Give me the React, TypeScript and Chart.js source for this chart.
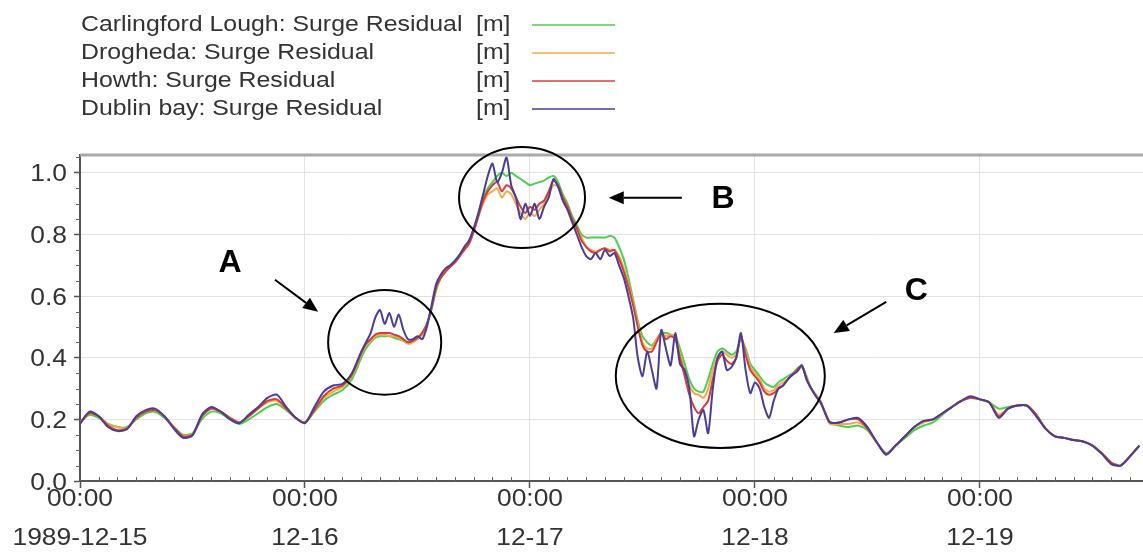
import React, { useEffect, useRef } from "react";
import { Chart, registerables } from "chart.js";

Chart.register(...registerables);

// Sample times, hours after 1989-12-15 00:00 (half-hourly through the surge peak)
const hours = [
  0, 1, 2, 3, 4, 5, 6, 7, 8, 9, 10, 11, 12, 13, 14, 15, 16, 17, 18, 19,
  20, 21, 22, 23, 24, 25, 26, 27, 28, 29,
  30, 30.5, 31, 31.5, 32, 32.5, 33, 33.5, 34, 34.5,
  35, 35.5, 36, 36.5, 37, 37.5, 38, 38.5, 39, 39.5,
  40, 40.5, 41, 41.5, 42, 42.5, 43, 43.5, 44, 44.5,
  45, 45.5, 46, 46.5, 47, 47.5, 48, 48.5, 49, 49.5,
  50, 50.5, 51, 51.5, 52, 52.5, 53, 53.5, 54, 54.5,
  55, 55.5, 56, 56.5, 57, 57.5, 58, 58.5, 59, 59.5,
  60, 60.5, 61, 61.5, 62, 62.5, 63, 63.5, 64, 64.5,
  65, 65.5, 66, 66.5, 67, 67.5, 68, 68.5, 69, 69.5,
  70, 70.5, 71, 71.5, 72, 72.5, 73, 73.5, 74, 74.5,
  75, 75.5, 76, 76.5, 77, 77.5, 78, 78.5, 79, 79.5,
  80,
  81, 82, 83, 84, 85, 86, 87, 88, 89, 90,
  91, 92, 93, 94, 95, 96, 97, 98, 99, 100,
  101, 102, 103, 104, 105, 106, 107, 108, 109, 110,
  111, 112, 113,
];

// Surge residual [m] at each station
const carlingford = [
  0.19, 0.215, 0.205, 0.185, 0.175, 0.175, 0.2, 0.22, 0.225, 0.205,
  0.175, 0.15, 0.155, 0.2, 0.225, 0.22, 0.2, 0.185, 0.2, 0.22,
  0.24, 0.25, 0.23, 0.205, 0.19, 0.225, 0.26, 0.28, 0.295, 0.33,
  0.4, 0.43, 0.45, 0.465, 0.47, 0.47, 0.47, 0.465, 0.46, 0.455,
  0.45, 0.455, 0.465, 0.48, 0.51, 0.56, 0.62, 0.66, 0.68, 0.7,
  0.715, 0.735, 0.755, 0.78, 0.82, 0.87, 0.92, 0.95, 0.97, 0.99,
  1.0, 0.99, 1.0, 0.99, 0.98, 0.97, 0.96, 0.965, 0.97, 0.975,
  0.985, 0.99, 0.97, 0.93, 0.9, 0.86, 0.83, 0.8, 0.79, 0.79,
  0.79, 0.79, 0.79, 0.795, 0.79, 0.76, 0.72, 0.66, 0.59, 0.52,
  0.47, 0.45, 0.44, 0.46, 0.48, 0.48, 0.475, 0.47, 0.43, 0.38,
  0.33, 0.3, 0.29, 0.29, 0.33, 0.38, 0.42, 0.43, 0.42, 0.41,
  0.42, 0.46, 0.43, 0.38, 0.36, 0.34, 0.32, 0.31, 0.305, 0.32,
  0.33, 0.34, 0.35, 0.365, 0.375, 0.34, 0.3, 0.28, 0.26, 0.22,
  0.19,
  0.18, 0.175, 0.18, 0.165, 0.125, 0.09, 0.115, 0.14, 0.165, 0.18,
  0.19, 0.215, 0.24, 0.26, 0.27, 0.265, 0.255, 0.235, 0.24, 0.245,
  0.245, 0.215, 0.17, 0.145, 0.14, 0.133, 0.128, 0.115, 0.09, 0.06,
  0.05, 0.08, 0.115,
];

const drogheda = [
  0.19, 0.22, 0.21, 0.185, 0.175, 0.17, 0.205, 0.225, 0.23, 0.21,
  0.175, 0.148, 0.152, 0.21, 0.235, 0.225, 0.205, 0.19, 0.21, 0.235,
  0.255, 0.26, 0.235, 0.205, 0.19, 0.23, 0.27, 0.29, 0.305, 0.34,
  0.41, 0.44, 0.455, 0.47, 0.475, 0.475, 0.47, 0.47, 0.465, 0.455,
  0.445, 0.45, 0.46, 0.475, 0.51, 0.56, 0.63, 0.66, 0.68, 0.695,
  0.71, 0.73, 0.75, 0.77, 0.81, 0.86, 0.9, 0.93, 0.94, 0.95,
  0.92, 0.94, 0.93, 0.9, 0.87, 0.85, 0.87, 0.86, 0.88, 0.9,
  0.93, 0.96, 0.955, 0.92, 0.89, 0.85, 0.82, 0.79, 0.76, 0.75,
  0.745, 0.75, 0.755, 0.75, 0.75, 0.73, 0.69, 0.64, 0.58, 0.51,
  0.45, 0.43, 0.43, 0.46, 0.48, 0.47, 0.475, 0.47, 0.41, 0.36,
  0.31, 0.285, 0.28, 0.27, 0.3, 0.36, 0.4, 0.42, 0.41, 0.4,
  0.41, 0.465, 0.42, 0.37, 0.35, 0.33, 0.3, 0.29, 0.295, 0.31,
  0.32, 0.33, 0.345, 0.36, 0.37, 0.335, 0.3, 0.28, 0.26, 0.22,
  0.185,
  0.185, 0.185, 0.19, 0.17, 0.125, 0.088, 0.115, 0.145, 0.175, 0.19,
  0.2, 0.22, 0.24, 0.26, 0.27, 0.265, 0.255, 0.215, 0.235, 0.245,
  0.245, 0.215, 0.17, 0.145, 0.14, 0.133, 0.128, 0.115, 0.09, 0.06,
  0.05, 0.08, 0.115,
];

const howth = [
  0.19, 0.22, 0.21, 0.18, 0.165, 0.17, 0.205, 0.225, 0.23, 0.21,
  0.175, 0.145, 0.15, 0.21, 0.235, 0.225, 0.205, 0.19, 0.21, 0.235,
  0.26, 0.265, 0.235, 0.205, 0.19, 0.23, 0.275, 0.3, 0.31, 0.345,
  0.415, 0.445, 0.46, 0.475, 0.48, 0.48, 0.48, 0.475, 0.47, 0.46,
  0.45, 0.455, 0.465, 0.48, 0.51, 0.56, 0.63, 0.66, 0.68, 0.695,
  0.71, 0.73, 0.75, 0.77, 0.81, 0.86, 0.91, 0.94, 0.96, 0.97,
  0.94, 0.96, 0.95, 0.92, 0.89, 0.87, 0.89, 0.88, 0.9, 0.91,
  0.94, 0.975, 0.96, 0.92, 0.89, 0.85, 0.82, 0.78, 0.76, 0.745,
  0.74, 0.75, 0.755, 0.745, 0.75, 0.72, 0.68, 0.63, 0.57, 0.5,
  0.44, 0.42, 0.42, 0.45, 0.48, 0.46, 0.47, 0.46, 0.4, 0.34,
  0.28, 0.24, 0.22, 0.24, 0.26, 0.33, 0.39, 0.41, 0.39, 0.38,
  0.4, 0.47, 0.41, 0.36, 0.34, 0.32, 0.29, 0.28, 0.285, 0.3,
  0.31, 0.33, 0.345, 0.36, 0.375, 0.33, 0.3, 0.275, 0.255, 0.22,
  0.19,
  0.19, 0.2, 0.2, 0.17, 0.125, 0.088, 0.115, 0.145, 0.175, 0.195,
  0.2, 0.22, 0.24, 0.26, 0.27, 0.265, 0.255, 0.21, 0.235, 0.245,
  0.245, 0.215, 0.17, 0.145, 0.14, 0.133, 0.128, 0.115, 0.09, 0.06,
  0.05, 0.08, 0.115,
];

const dublinBay = [
  0.185, 0.225, 0.21, 0.175, 0.162, 0.168, 0.21, 0.23, 0.235, 0.21,
  0.17, 0.14, 0.148, 0.215, 0.24, 0.225, 0.2, 0.188, 0.215, 0.24,
  0.27, 0.28, 0.24, 0.205, 0.188, 0.24, 0.29, 0.31, 0.315, 0.35,
  0.42, 0.45, 0.48, 0.53, 0.555, 0.51, 0.545, 0.5, 0.54, 0.49,
  0.46, 0.46, 0.47, 0.46, 0.5, 0.57, 0.64, 0.67, 0.69, 0.7,
  0.715, 0.735, 0.76, 0.78, 0.82, 0.87, 0.93, 0.99, 1.03, 0.97,
  1.0, 1.05, 0.96, 0.92, 0.85, 0.9, 0.86, 0.9, 0.85, 0.89,
  0.92, 0.98, 0.955, 0.91, 0.88, 0.84, 0.8, 0.76, 0.73, 0.72,
  0.74, 0.72, 0.75, 0.73, 0.74, 0.7, 0.66, 0.6, 0.53, 0.4,
  0.34, 0.42, 0.36, 0.3, 0.49, 0.43, 0.375, 0.48, 0.38, 0.36,
  0.3, 0.145, 0.2, 0.23, 0.155, 0.3, 0.4, 0.42, 0.36, 0.37,
  0.4, 0.48, 0.36, 0.285, 0.32, 0.3, 0.24, 0.205, 0.26, 0.3,
  0.31, 0.33, 0.345, 0.355, 0.375, 0.33, 0.3, 0.275, 0.255, 0.22,
  0.19,
  0.19, 0.2, 0.205, 0.175, 0.125, 0.085, 0.115, 0.145, 0.175, 0.195,
  0.2, 0.22, 0.24, 0.26, 0.275, 0.265, 0.255, 0.205, 0.235, 0.245,
  0.245, 0.21, 0.17, 0.145, 0.14, 0.133, 0.128, 0.115, 0.088, 0.055,
  0.05, 0.08, 0.115,
];

const seriesNames = [
  "Carlingford Lough: Surge Residual",
  "Drogheda: Surge Residual",
  "Howth: Surge Residual",
  "Dublin bay: Surge Residual",
];
const seriesUnit = "[m]";
const seriesColors = ["#4ccf4c", "#f0aa48", "#d83c3c", "#4a3d96"];

// Axis ticks
const xTickHours = [0, 24, 48, 72, 96];
const xTickTimes = ["00:00", "00:00", "00:00", "00:00", "00:00"];
const xTickDates = ["1989-12-15", "12-16", "12-17", "12-18", "12-19"];
const yTickValues = [0, 0.2, 0.4, 0.6, 0.8, 1.0];
const yTickLabels = ["0.0", "0.2", "0.4", "0.6", "0.8", "1.0"];

// Highlighted episodes: ellipse centre/radii and pointer arrow, in data units
const calloutLabels = ["A", "B", "C"];
const calloutCentres = [
  [32.5, 0.45],
  [47.15, 0.92],
  [68.3, 0.341],
];
const calloutRadii = [
  [6.03, 0.17],
  [6.72, 0.164],
  [11.15, 0.234],
];
const arrowTails = [
  [20.8, 0.653],
  [64.2, 0.919],
  [86.0, 0.581],
];
const arrowHeads = [
  [25.4, 0.549],
  [56.4, 0.919],
  [80.4, 0.48],
];
const labelPositions = [
  [16.0, 0.711],
  [68.6, 0.919],
  [89.2, 0.62],
];

const FONT = '"Liberation Sans", Arial, Helvetica, sans-serif';

function stretchedText(
  ctx: CanvasRenderingContext2D,
  text: string,
  x: number,
  y: number,
  align: CanvasTextAlign,
  sx: number
) {
  ctx.save();
  ctx.translate(x, y);
  ctx.scale(sx, 1);
  ctx.textAlign = align;
  ctx.fillText(text, 0, 0);
  ctx.restore();
}

const decorations = {
  id: "surgeDecorations",
  afterDraw(chart: any) {
    const ctx: CanvasRenderingContext2D = chart.ctx;
    const { left, right, top, bottom } = chart.chartArea;
    const xs = chart.scales.x;
    const ys = chart.scales.y;

    ctx.save();

    // upper frame line
    ctx.strokeStyle = "#a9a9a9";
    ctx.lineWidth = 3;
    ctx.beginPath();
    ctx.moveTo(left, top);
    ctx.lineTo(right, top);
    ctx.stroke();

    // minor ticks
    ctx.strokeStyle = "#666";
    ctx.lineWidth = 1;
    ctx.beginPath();
    for (let h = 2; h < xs.max; h += 2) {
      if (h % 24 === 0) continue;
      const px = Math.round(xs.getPixelForValue(h)) + 0.5;
      ctx.moveTo(px, bottom);
      ctx.lineTo(px, bottom - 4);
    }
    for (let k = 1; k * 0.05 < ys.max; k++) {
      if (k % 4 === 0) continue;
      const py = Math.round(ys.getPixelForValue(k * 0.05)) + 0.5;
      ctx.moveTo(left - 4, py);
      ctx.lineTo(left, py);
    }
    ctx.stroke();

    // tick labels
    ctx.fillStyle = "#333";
    ctx.font = `24px ${FONT}`;
    ctx.textBaseline = "middle";
    yTickValues.forEach((v, i) => {
      stretchedText(ctx, yTickLabels[i], 67, ys.getPixelForValue(v) + 2, "right", 1.1);
    });
    xTickHours.forEach((h, i) => {
      const px = xs.getPixelForValue(h);
      stretchedText(ctx, xTickTimes[i], px, bottom + 18, "center", 1.1);
      stretchedText(ctx, xTickDates[i], px, bottom + 57, "center", 1.1);
    });

    // legend
    ctx.font = `22px ${FONT}`;
    seriesNames.forEach((name, i) => {
      const y = 25 + i * 28;
      ctx.fillStyle = "#333";
      stretchedText(ctx, name, 81, y, "left", 1.13);
      stretchedText(ctx, seriesUnit, 476, y, "left", 1.13);
      ctx.strokeStyle = seriesColors[i];
      ctx.lineWidth = 1.5;
      ctx.beginPath();
      ctx.moveTo(532, y);
      ctx.lineTo(615, y);
      ctx.stroke();
    });

    // callouts
    ctx.strokeStyle = "#000";
    ctx.fillStyle = "#000";
    ctx.lineWidth = 2;
    calloutLabels.forEach((label, i) => {
      const cx = xs.getPixelForValue(calloutCentres[i][0]);
      const cy = ys.getPixelForValue(calloutCentres[i][1]);
      const rx = xs.getPixelForValue(calloutCentres[i][0] + calloutRadii[i][0]) - cx;
      const ry = cy - ys.getPixelForValue(calloutCentres[i][1] + calloutRadii[i][1]);
      ctx.beginPath();
      ctx.ellipse(cx, cy, rx, ry, 0, 0, Math.PI * 2);
      ctx.stroke();

      const x0 = xs.getPixelForValue(arrowTails[i][0]);
      const y0 = ys.getPixelForValue(arrowTails[i][1]);
      const x1 = xs.getPixelForValue(arrowHeads[i][0]);
      const y1 = ys.getPixelForValue(arrowHeads[i][1]);
      const ang = Math.atan2(y1 - y0, x1 - x0);
      const headLen = 15;
      const headHalf = 6.5;
      const bx = x1 - headLen * Math.cos(ang);
      const by = y1 - headLen * Math.sin(ang);
      ctx.beginPath();
      ctx.moveTo(x0, y0);
      ctx.lineTo(bx, by);
      ctx.stroke();
      ctx.beginPath();
      ctx.moveTo(x1, y1);
      ctx.lineTo(bx + headHalf * Math.sin(ang), by - headHalf * Math.cos(ang));
      ctx.lineTo(bx - headHalf * Math.sin(ang), by + headHalf * Math.cos(ang));
      ctx.closePath();
      ctx.fill();

      ctx.font = `bold 32px ${FONT}`;
      ctx.textAlign = "center";
      ctx.textBaseline = "middle";
      ctx.fillText(
        label,
        xs.getPixelForValue(labelPositions[i][0]),
        ys.getPixelForValue(labelPositions[i][1]) + 1
      );
    });

    ctx.restore();
  },
};

export default function App() {
  const canvasRef = useRef<HTMLCanvasElement | null>(null);

  useEffect(() => {
    const canvas = canvasRef.current;
    if (!canvas) return;
    const seriesValues = [carlingford, drogheda, howth, dublinBay];
    const chart = new Chart(canvas, {
      type: "line",
      data: {
        datasets: seriesValues.map((vals, i) => ({
          label: seriesNames[i],
          data: vals.map((v, k) => ({ x: hours[k], y: v })),
          borderColor: seriesColors[i],
          borderWidth: 2,
          pointRadius: 0,
          tension: 0.25,
          fill: false,
          // Dublin bay drawn on top, Carlingford underneath
          order: seriesValues.length - 1 - i,
        })),
      },
      options: {
        responsive: false,
        animation: false,
        devicePixelRatio: 1,
        layout: { padding: { top: 155, left: 0, right: 0, bottom: 0 } },
        plugins: {
          legend: { display: false },
          tooltip: { enabled: false },
        },
        scales: {
          x: {
            type: "linear",
            min: 0,
            max: 113.39,
            afterBuildTicks: (scale: any) => {
              scale.ticks = xTickHours.map((v) => ({ value: v }));
            },
            afterFit: (scale: any) => {
              scale.height = 71;
            },
            ticks: { display: false },
            grid: {
              color: "#dce6e6",
              lineWidth: 1,
              drawTicks: true,
              tickLength: 7,
              tickColor: "#555",
              tickWidth: 1.5,
            },
            border: { display: true, color: "#555", width: 2 },
          },
          y: {
            type: "linear",
            min: 0,
            max: 1.058,
            afterBuildTicks: (scale: any) => {
              scale.ticks = yTickValues.map((v) => ({ value: v }));
            },
            afterFit: (scale: any) => {
              scale.width = 80;
            },
            ticks: { display: false },
            grid: {
              color: "#e3e3e3",
              lineWidth: 1,
              drawTicks: true,
              tickLength: 6,
              tickColor: "#555",
              tickWidth: 1.5,
            },
            border: { display: true, color: "#555", width: 2 },
          },
        },
      },
      plugins: [decorations],
    });
    return () => chart.destroy();
  }, []);

  return (
    <div
      style={{
        position: "fixed",
        left: 0,
        top: 0,
        width: 1143,
        height: 552,
        background: "#fff",
      }}
    >
      <canvas ref={canvasRef} width={1143} height={552} />
    </div>
  );
}
